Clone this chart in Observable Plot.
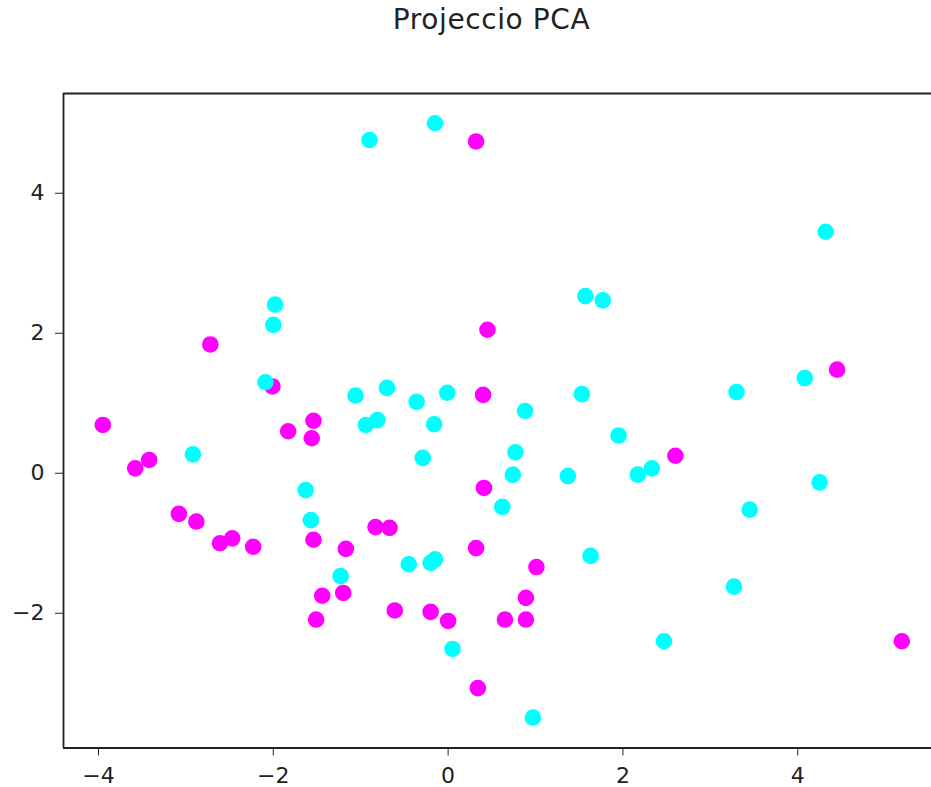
<!DOCTYPE html>
<html>
<head>
<meta charset="utf-8">
<script src="https://cdn.jsdelivr.net/npm/d3@7"></script>
<script src="https://cdn.jsdelivr.net/npm/@observablehq/plot@0.6"></script>
<style>
  body { margin: 0; background: #fff; }
  #title {
    width: 931px; height: 60px; box-sizing: border-box;
    padding-top: 3px; padding-left: 52px;
    font: 28px "DejaVu Sans", sans-serif; line-height: 34px;
    letter-spacing: 0.6px;
    text-align: center; color: #222;
  }
</style>
</head>
<body>
<div id="title">Projeccio PCA</div>
<div id="chart"></div>
<script>
// First two principal components, class 0 (cyan)
const class0X = [-0.90, -0.15, -1.98, -2.00, -2.09, -1.06, -0.70, -0.36, -0.01, -0.94, -0.81, -0.16, -0.29, -2.92,
  -1.63, -1.57, -1.23, -0.45, -0.20, -0.15, 0.05, 0.88, 1.95, 0.77, 0.74, 1.37, 2.17, 2.33, 4.25, 0.62, 3.45,
  1.63, 3.27, 2.47, 0.97, 4.32, 1.57, 1.77, 1.53, 3.30, 4.08];
const class0Y = [4.76, 5.00, 2.41, 2.12, 1.30, 1.11, 1.22, 1.02, 1.15, 0.69, 0.76, 0.70, 0.22, 0.27,
  -0.24, -0.67, -1.47, -1.30, -1.28, -1.23, -2.51, 0.89, 0.54, 0.30, -0.02, -0.04, -0.02, 0.07, -0.13, -0.48, -0.52,
  -1.18, -1.62, -2.40, -3.49, 3.45, 2.53, 2.47, 1.13, 1.16, 1.36];

// Class 1 (magenta)
const class1X = [0.32, -2.72, -2.01, -3.95, -1.54, -1.56, -1.83, -3.58, -3.42, -3.08, -2.88, -2.61, -2.47, -2.23,
  -1.54, -1.17, -0.83, -0.67, -1.44, -1.20, -1.51, -0.61, -0.20, 0.00, 0.32, 0.34, 0.41, 1.01, 0.89, 0.65,
  0.89, 5.19, 2.60, 0.45, 0.40, 4.45];
const class1Y = [4.74, 1.84, 1.24, 0.69, 0.75, 0.50, 0.60, 0.07, 0.19, -0.58, -0.69, -1.00, -0.93, -1.05,
  -0.95, -1.08, -0.77, -0.78, -1.75, -1.71, -2.09, -1.96, -1.98, -2.11, -1.07, -3.07, -0.21, -1.34, -1.78, -2.09,
  -2.09, -2.40, 0.25, 2.05, 1.12, 1.48];

const xTicks = [-4, -2, 0, 2, 4];
const yTicks = [-2, 0, 2, 4];

const xDomain = [-4.40, 5.53];
const yDomain = [-3.925, 5.425];

const points = [
  ...class1X.map((x, i) => ({x, y: class1Y[i], label: 1})),
  ...class0X.map((x, i) => ({x, y: class0Y[i], label: 0}))
];

const minus = d => String(d).replace("-", "\u2212");

const chart = Plot.plot({
  width: 931,
  height: 727,
  marginTop: 33,
  marginLeft: 63,
  marginRight: 0,
  marginBottom: 39.5,
  style: {fontFamily: "DejaVu Sans, sans-serif", fontSize: "22px", color: "#222", background: "#fff"},
  x: {domain: xDomain, ticks: xTicks, tickFormat: minus, tickSize: 8, tickPadding: 11, label: null},
  y: {domain: yDomain, ticks: yTicks, tickFormat: minus, tickSize: 8, tickPadding: 11, label: null},
  color: {domain: [0, 1], range: ["#00ffff", "#ff00ff"]},
  marks: [
    Plot.dot(points, {x: "x", y: "y", r: 8.3, fill: d => d.label, stroke: null}),
    Plot.ruleX([xDomain[0]], {stroke: "#222", strokeWidth: 1.8}),
    Plot.ruleY(yDomain, {stroke: "#222", strokeWidth: 1.8})
  ]
});
document.getElementById("chart").appendChild(chart);
</script>
</body>
</html>
